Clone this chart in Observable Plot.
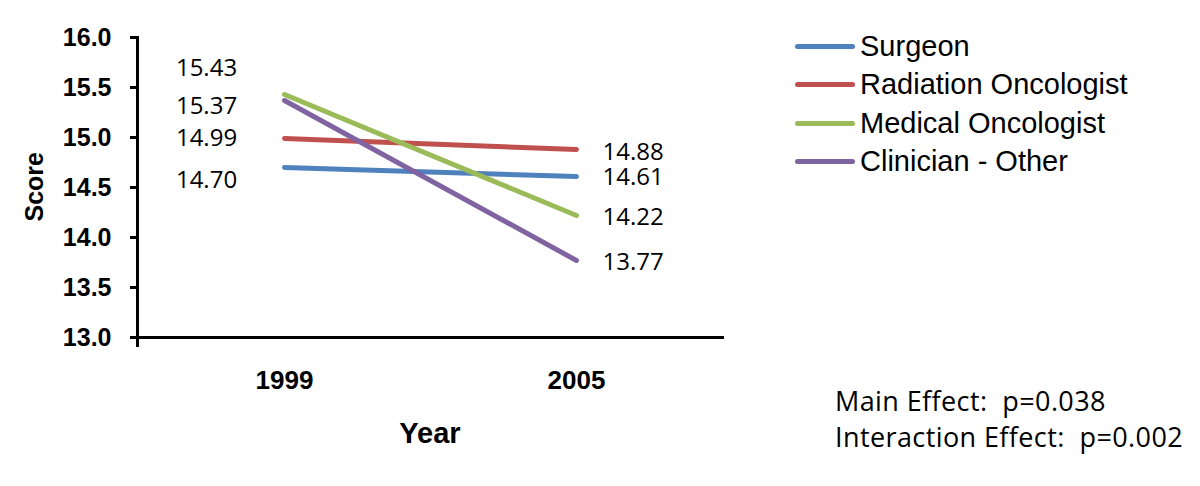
<!DOCTYPE html>
<html>
<head>
<meta charset="utf-8">
<script src="https://cdn.jsdelivr.net/npm/d3@7"></script>
<script src="https://cdn.jsdelivr.net/npm/@observablehq/plot@0.6"></script>
<style>
  body { margin: 0; background: #fff; }
  #wrap { position: relative; width: 1200px; height: 486px; overflow: hidden; background: #fff; }
  #wrap svg { position: absolute; left: 0; top: 0; }
  .legend-row { position: absolute; left: 795px; height: 38px; display: flex; align-items: center;
    font-family: "Liberation Sans", Arial, sans-serif; font-size: 29px; color: #000; white-space: nowrap; }
  .legend-row .sw { width: 60px; height: 5px; border-radius: 3px; margin-right: 5px; }
  #notes { position: absolute; left: 835px; top: 383px; font-family: "Open Sans", sans-serif;
    font-size: 27px; letter-spacing: 0.4px; line-height: 36px; color: #000; white-space: pre; }
</style>
</head>
<body>
<div id="wrap"></div>
<script>
// ---- data ----
const years = ["1999", "2005"];
const series = ["Surgeon", "Radiation Oncologist", "Medical Oncologist", "Clinician - Other"];
const scores1999 = [14.70, 14.99, 15.43, 15.37];
const scores2005 = [14.61, 14.88, 14.22, 13.77];
const colors = ["#4F81BD", "#C0504D", "#9BBB59", "#8064A2"];
const yTicks = [13.0, 13.5, 14.0, 14.5, 15.0, 15.5, 16.0];
const xTitle = "Year";
const yTitle = "Score";
const notes = ["Main Effect:  p=0.038", "Interaction Effect:  p=0.002"];
// vertical nudges of the value labels (px), as placed in the original
const labelNudge1999 = [13, 0, -26, 6];
const labelNudge2005 = [1, 3, 2, 2];

// ---- table ----
const rows = [];
series.forEach((s, i) => {
  rows.push({series: s, year: years[0], score: scores1999[i], nudge: labelNudge1999[i]});
  rows.push({series: s, year: years[1], score: scores2005[i], nudge: labelNudge2005[i]});
});

const font = "Liberation Sans, Arial, sans-serif";
const labelMarks = rows.map(r => Plot.text([r], {
  x: "year", y: "score", text: d => d.score.toFixed(2),
  dx: r.year === years[0] ? -78 : 26, dy: r.nudge,
  textAnchor: r.year === years[0] ? "middle" : "start",
  fontFamily: "Open Sans, sans-serif", fontSize: 24, fill: "#000"
}));

const plot = Plot.plot({
  width: 1200, height: 486,
  marginLeft: 137, marginRight: 478, marginTop: 37, marginBottom: 149,
  style: {fontFamily: font, color: "#000", background: "transparent", overflow: "visible"},
  x: {type: "point", domain: years, padding: 0.5},
  y: {domain: [13, 16], ticks: yTicks, tickFormat: d => d.toFixed(1)},
  color: {domain: series, range: colors},
  marks: [
    Plot.axisY({ticks: yTicks, tickSize: 7, tickPadding: 19, strokeWidth: 3, label: null,
      fontSize: 25, fontWeight: "bold", fontFamily: font}),
    Plot.axisX({tickSize: 0, tickPadding: 33, label: null, fontSize: 26, fontWeight: "bold", fontFamily: font}),
    Plot.frame({anchor: "left", stroke: "#000", strokeWidth: 3, insetBottom: -8}),
    Plot.frame({anchor: "bottom", stroke: "#000", strokeWidth: 3}),
    Plot.line(rows, {x: "year", y: "score", z: "series", stroke: "series",
      strokeWidth: 5, strokeLinecap: "round"}),
    ...labelMarks,
    Plot.text([xTitle], {frameAnchor: "bottom", dy: 96, lineAnchor: "middle", text: d => d,
      fontSize: 29, fontWeight: "bold", fontFamily: font}),
    Plot.text([yTitle], {frameAnchor: "left", dx: -103, dy: 34, rotate: -90, lineAnchor: "middle", text: d => d,
      fontSize: 25, fontWeight: "bold", fontFamily: font})
  ]
});

const wrap = document.getElementById("wrap");
wrap.appendChild(plot);

// legend (line swatches)
const color = plot.scale("color");
const legendCenters0 = 46, legendStep = 38.6;
series.forEach((s, i) => {
  const row = document.createElement("div");
  row.className = "legend-row";
  row.style.top = (legendCenters0 + i * legendStep - 19) + "px";
  const sw = document.createElement("span");
  sw.className = "sw";
  sw.style.background = color.apply(s);
  const t = document.createElement("span");
  t.textContent = s;
  row.appendChild(sw); row.appendChild(t);
  wrap.appendChild(row);
});

const n = document.createElement("div");
n.id = "notes";
n.textContent = notes.join("\n");
wrap.appendChild(n);
</script>
</body>
</html>
